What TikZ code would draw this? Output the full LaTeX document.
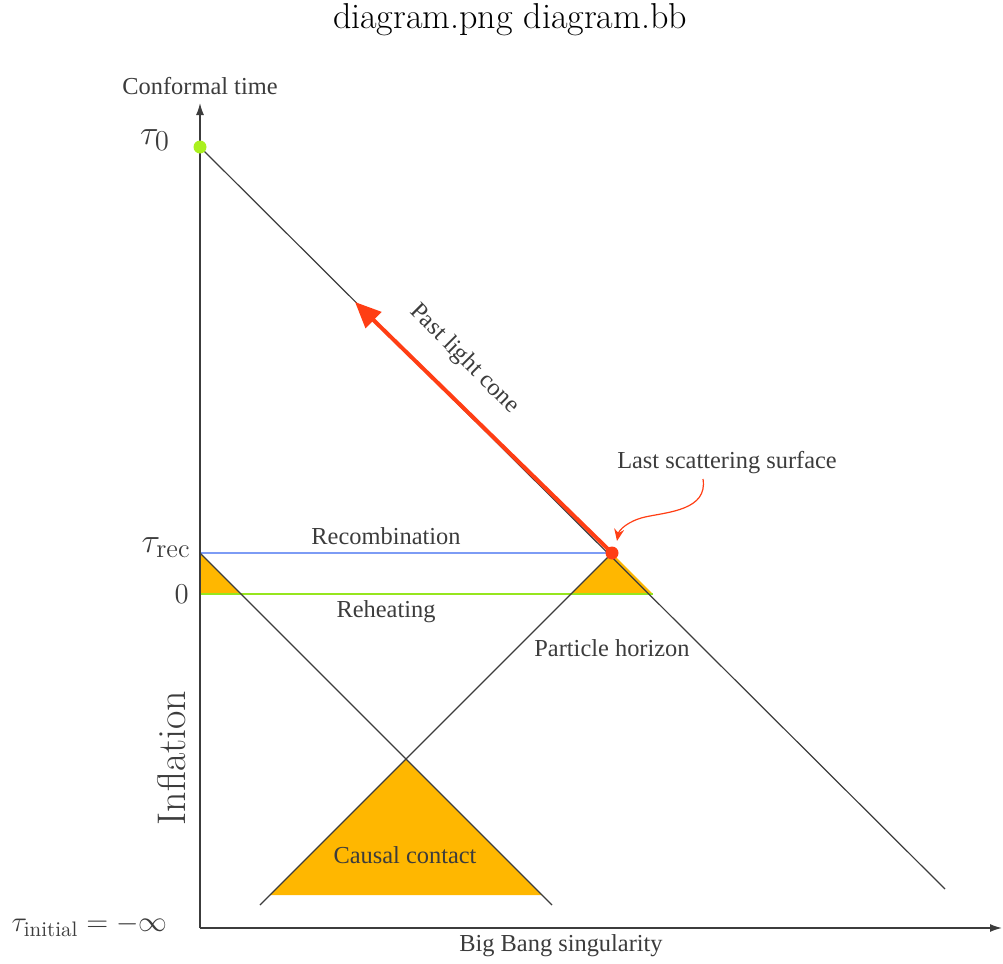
\documentclass[tikz,border=0pt]{standalone}
\usepackage{fontspec}
\newfontfamily\labelfont{Liberation Serif}
\usetikzlibrary{arrows.meta}
\definecolor{conered}{RGB}{255,62,20}
\definecolor{causalorange}{RGB}{255,183,0}
\definecolor{recblue}{RGB}{125,156,245}
\definecolor{reheatgreen}{RGB}{150,230,30}
\definecolor{nowgreen}{RGB}{170,240,30}
\definecolor{linegray}{RGB}{60,60,60}
\tikzset{
  lbl/.style={font=\labelfont\fontsize{12.2}{14}\selectfont, text=linegray, inner sep=0pt},
  mlbl/.style={font=\fontsize{19}{22}\selectfont, text=linegray, inner sep=0pt},
  cone/.style={draw=linegray, line width=0.6pt},
  axis/.style={draw=linegray, line width=0.7pt, -{Latex[length=6pt,width=4pt]}}
}
\begin{document}
\begin{tikzpicture}[x=0.5pt, y=-0.5pt]
                    \useasboundingbox (0,0) rectangle (1003,964);
                    % Title
                    \node[font=\fontsize{18}{21}\selectfont, inner sep=0pt] (title) at (510,20) {diagram.png diagram.bb};
                    % Key points
                    \coordinate (origin) at (200,928);
                    \coordinate (now) at (200,147);
                    \coordinate (lss) at (612,553);
                    \coordinate (recleft) at (200,553);
                    \coordinate (apex) at (406,759);
                    % Orange regions
                    \fill[causalorange] (recleft) -- (200,594) -- (241,594) -- cycle;
                    \fill[causalorange] (lss) -- (571,594) -- (653,594) -- cycle;
                    \fill[causalorange] (apex) -- (270,895) -- (542,895) -- cycle;
                    % Recombination and reheating
                    \draw[recblue, line width=1.2pt] (recleft) -- (lss);
                    \draw[reheatgreen, line width=1.2pt] (200,594) -- (653,594);
                    % Light cones
                    \draw[cone] (now) -- (945,889);
                    \draw[cone] (recleft) -- (552,905);
                    \draw[cone] (260,905) -- (lss);
                    % Axes
                    \draw[axis] (origin) -- (200,103);
                    \draw[axis] (origin) -- (1002,928);
                    % Past light cone arrow
                    \draw[conered, line width=2pt, -{Triangle[length=13pt,width=11pt]}] (lss) -- (355,302);
                    \fill[conered] (lss) circle (6.5);
                    \fill[nowgreen] (now) circle (6.5);
                    % Last scattering pointer
                    \draw[conered, line width=0.6pt, -{Stealth[length=6pt,width=5pt]}] (703,479) .. controls (708,510) and (668,512) .. (645,517) .. controls (628,521) and (619,530) .. (617,541);
                    % Labels
                    \node[lbl] (conformal) at (200,86) {Conformal time};
                    \node[lbl] (bigbang) at (561,946) {Big Bang singularity};
                    \node[lbl] (recomb) at (386,536) {Recombination};
                    \node[lbl] (reheat) at (386,612) {Reheating};
                    \node[lbl] (horizon) at (612,648) {Particle horizon};
                    \node[lbl] (causal) at (405,855) {Causal contact};
                    \node[lbl] (lsslabel) at (727,463) {Last scattering surface};
                    \node[lbl, rotate=-45] (pastcone) at (464,359) {Past light cone};
                    \node[font=\fontsize{20}{24}\selectfont, text=linegray, rotate=90, inner sep=0pt] (inflation) at (172,758) {Inflation};
                    % Time labels
                    \node[mlbl] (tau0) at (155,140) {$\tau_0$};
                    \node[mlbl, anchor=east] (taurec) at (191,548) {$\tau_{\mathrm{rec}}$};
                    \node[mlbl, anchor=east, font=\fontsize{14}{17}\selectfont] (zero) at (189,594) {$0$};
                    \node[mlbl, anchor=east, font=\fontsize{15}{18}\selectfont] (tauinit) at (168,926) {$\tau_{\mathrm{initial}}=-\infty$};
                \end{tikzpicture}
\end{document}
